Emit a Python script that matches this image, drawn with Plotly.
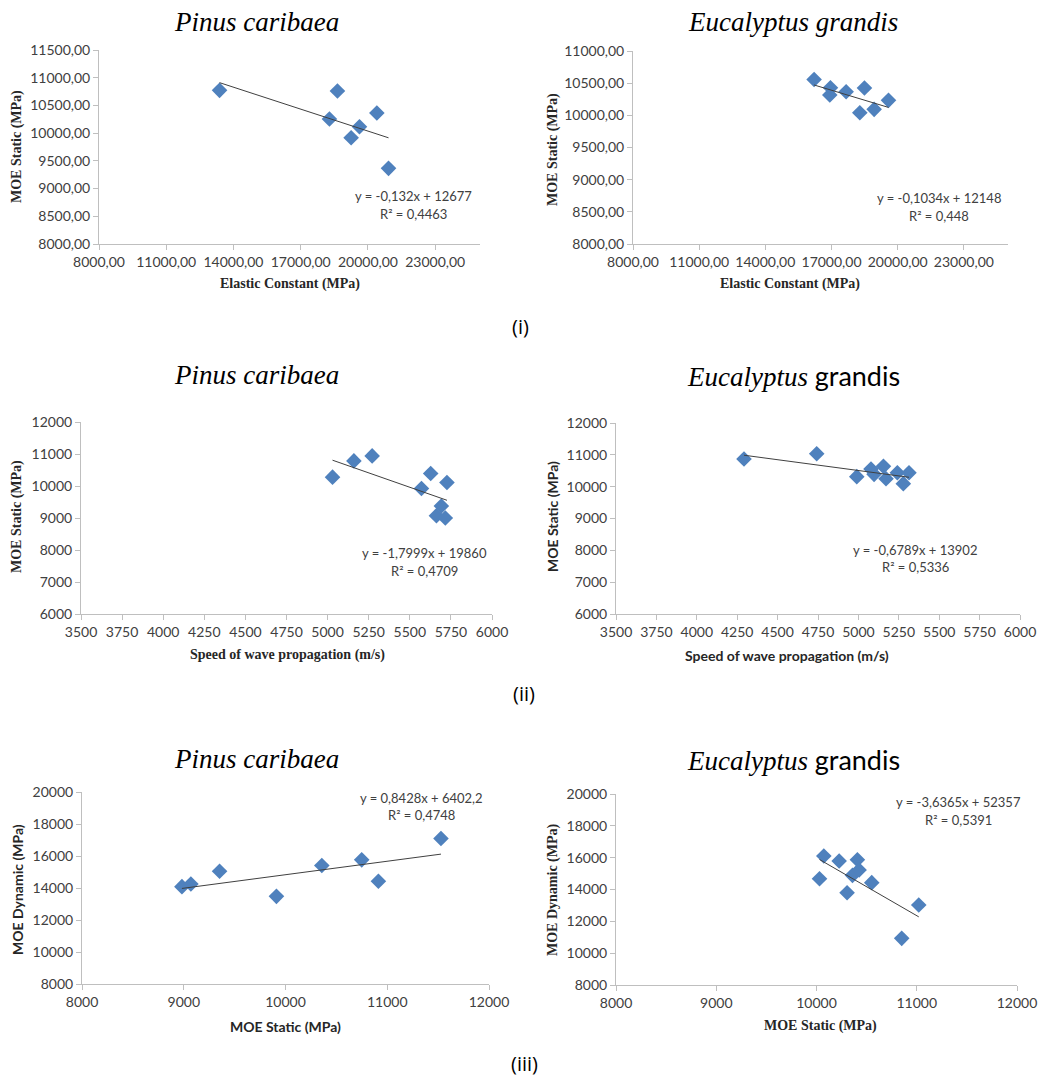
import plotly.graph_objects as go

W, H = 1051, 1082

# ---------------- data ----------------
p1_x = [13379, 18639, 18281, 20397, 19622, 19250, 20918]
p1_y = [10772, 10760, 10254, 10363, 10116, 9918, 9365]
p1_fit = (-0.132, 12677)

p2_x = [16210, 16951, 16921, 17662, 18493, 18282, 18932, 19582]
p2_y = [10558, 10429, 10315, 10367, 10424, 10041, 10093, 10233]
p2_fit = (-0.1034, 12148)

p3_x = [5030, 5160, 5271, 5627, 5571, 5726, 5692, 5662, 5716]
p3_y = [10277, 10785, 10941, 10391, 9924, 10110, 9374, 9072, 9000]
p3_fit = (-1.7999, 19860)

p4_x = [4292, 4742, 4990, 5078, 5097, 5155, 5171, 5241, 5313, 5278]
p4_y = [10869, 11036, 10314, 10554, 10387, 10638, 10251, 10439, 10439, 10094]
p4_fit = (-0.6789, 13902)

p5_x = [8982, 9070, 9352, 9911, 10357, 10749, 10913, 11528]
p5_y = [14085, 14252, 15047, 13478, 15402, 15758, 14419, 17096]
p5_fit = (0.8428, 6402.2)

p6_x = [10073, 10030, 10226, 10305, 10359, 10408, 10425, 10551, 11020, 10850]
p6_y = [16104, 14680, 15790, 13800, 14889, 15873, 15224, 14429, 13026, 10932]
p6_fit = (-3.6365, 52357)

eq_text = [
    ("y = -0,132x + 12677", "R² = 0,4463"),
    ("y = -0,1034x + 12148", "R² = 0,448"),
    ("y = -1,7999x + 19860", "R² = 0,4709"),
    ("y = -0,6789x + 13902", "R² = 0,5336"),
    ("y = 0,8428x + 6402,2", "R² = 0,4748"),
    ("y = -3,6365x + 52357", "R² = 0,5391"),
]

x_titles = ["Elastic Constant (MPa)", "Elastic Constant (MPa)",
            "Speed of wave propagation (m/s)", "Speed of wave propagation (m/s)",
            "MOE Static (MPa)", "MOE Static (MPa)"]
y_titles = ["MOE Static (MPa)", "MOE Static (MPa)",
            "MOE Static (MPa)", "MOE Static (MPa)",
            "MOE Dynamic (MPa)", "MOE Dynamic (MPa)"]

# axis ranges / ticks
x_ranges = [(8000, 25000, 3000), (8000, 25000, 3000), (3500, 6000, 250),
            (3500, 6000, 250), (8000, 12000, 1000), (8000, 12000, 1000)]
y_ranges = [(8000, 11500, 500), (8000, 11000, 500), (6000, 12000, 1000),
            (6000, 12000, 1000), (8000, 20000, 2000), (8000, 20000, 2000)]
tick_fmt = [".2f", ".2f", "d", "d", "d", "d"]

# ---------------- layout (pixel boxes) ----------------
boxes = [  # left, right, top, bottom in px
    (99, 480, 50, 244),
    (633, 1008, 51, 244),
    (81, 492, 422, 614),
    (616, 1020, 423, 614),
    (82, 489, 792, 984),
    (616, 1017, 794, 985),
]
eq_pos = [(413, 196, 214), (939, 198, 216), (424, 553, 571),
          (915, 550, 567), (421, 798, 815), (958, 802, 820)]
xt_pos = [(290, 284), (790, 284), (287, 655), (787, 655), (285, 1026), (820, 1026)]
yt_pos = [(17, 147), (553, 150), (17, 517), (553, 517), (17, 890), (553, 890)]

serif = "Liberation Serif, Times New Roman, serif"
sans = "Lato, Carlito, Calibri, sans-serif"
title_fonts = [serif, serif, serif, sans, sans, serif]

xs = [p1_x, p2_x, p3_x, p4_x, p5_x, p6_x]
ys = [p1_y, p2_y, p3_y, p4_y, p5_y, p6_y]
fits = [p1_fit, p2_fit, p3_fit, p4_fit, p5_fit, p6_fit]

fig = go.Figure()
annotations = []
layout_axes = {}

def px2x(p):
    return p / W

def px2y(p):
    return 1 - p / H

for i in range(6):
    n = "" if i == 0 else str(i + 1)
    xa, ya = "x" + n, "y" + n
    fig.add_trace(go.Scatter(
        x=xs[i], y=ys[i], mode="markers", xaxis=xa, yaxis=ya,
        marker=dict(symbol="diamond", size=12, color="#4F81BD"),
        showlegend=False, hoverinfo="x+y"))
    a, b = fits[i]
    x0, x1 = min(xs[i]), max(xs[i])
    fig.add_trace(go.Scatter(
        x=[x0, x1], y=[a * x0 + b, a * x1 + b], mode="lines",
        xaxis=xa, yaxis=ya, line=dict(color="#404040", width=1),
        showlegend=False, hoverinfo="skip"))
    l, r, t, bt = boxes[i]
    xr, yr = x_ranges[i], y_ranges[i]
    common = dict(showgrid=False, zeroline=False, showline=True,
                  linecolor="#BFBFBF", linewidth=1, ticks="outside",
                  ticklen=5, tickcolor="#BFBFBF", tickmode="linear",
                  tickfont=dict(family=sans, size=14, color="#404040"),
                  tickformat=tick_fmt[i], fixedrange=True, automargin=False)
    layout_axes["xaxis" + n] = dict(common, domain=[px2x(l), px2x(r)],
                                    range=[xr[0], xr[1]], tick0=xr[0], dtick=xr[2],
                                    anchor=ya)
    layout_axes["yaxis" + n] = dict(common, domain=[px2y(bt), px2y(t)],
                                    range=[yr[0], yr[1]], tick0=yr[0], dtick=yr[2],
                                    anchor=xa)
    ex, ey1, ey2 = eq_pos[i]
    for txt, yy in ((eq_text[i][0], ey1), (eq_text[i][1], ey2)):
        annotations.append(dict(text=txt, x=px2x(ex), y=px2y(yy), xref="paper",
                                yref="paper", showarrow=False, xanchor="center",
                                yanchor="middle",
                                font=dict(family=sans, size=13, color="#404040")))
    tx, ty = xt_pos[i]
    annotations.append(dict(text="<b>%s</b>" % x_titles[i], x=px2x(tx), y=px2y(ty),
                            xref="paper", yref="paper", showarrow=False,
                            xanchor="center", yanchor="middle",
                            font=dict(family=title_fonts[i] if i != 4 else sans,
                                      size=14, color="#262626")))
    qx, qy = yt_pos[i]
    annotations.append(dict(text="<b>%s</b>" % y_titles[i], x=px2x(qx), y=px2y(qy),
                            xref="paper", yref="paper", showarrow=False,
                            textangle=-90, xanchor="center", yanchor="middle",
                            font=dict(family=title_fonts[i], size=14, color="#262626")))

# panel titles
pinus = "<i>Pinus caribaea</i>"
euc1 = "<i>Eucalyptus grandis</i>"
euc2 = "<i>Eucalyptus</i> <span style='font-family:Lato, sans-serif;font-style:normal'>grandis</span>"
for (txt, cx, cy) in [(pinus, 256, 22), (euc1, 793, 22), (pinus, 256, 375),
                      (euc2, 793, 375), (pinus, 256, 759), (euc2, 793, 759)]:
    annotations.append(dict(text=txt, x=px2x(cx), y=px2y(cy), xref="paper",
                            yref="paper", showarrow=False, xanchor="center",
                            yanchor="middle",
                            font=dict(family=serif, size=27, color="#000000")))

for (txt, cx, cy) in [("(i)", 520, 326), ("(ii)", 524, 693), ("(iii)", 524, 1063)]:
    annotations.append(dict(text=txt, x=px2x(cx), y=px2y(cy), xref="paper",
                            yref="paper", showarrow=False, xanchor="center",
                            yanchor="middle",
                            font=dict(family="Open Sans, sans-serif", size=20,
                                      color="#000000")))

fig.update_layout(
    width=W, height=H, margin=dict(l=0, r=0, t=0, b=0),
    paper_bgcolor="white", plot_bgcolor="white",
    separators=",.", annotations=annotations, **layout_axes)

fig.write_html("out.html", config={"displayModeBar": False},
               post_script="document.body.style.margin='0px';"
                           "document.body.style.overflow='hidden';")
